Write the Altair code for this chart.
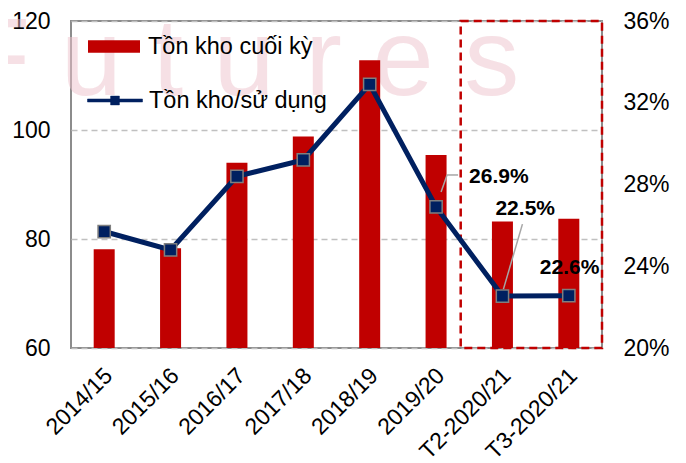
import altair as alt
import pandas as pd

cats = ["2014/15", "2015/16", "2016/17", "2017/18", "2018/19", "2019/20", "T2-2020/21", "T3-2020/21"]
stock = [78.1, 78.3, 94.0, 98.8, 112.8, 95.4, 83.2, 83.7]
ratio_pct = [25.7, 24.8, 28.4, 29.2, 32.9, 26.9, 22.54, 22.56]
left_ticks = [60, 80, 100, 120]
right_ticks = [0.20, 0.24, 0.28, 0.32, 0.36]
series_names = ["Tồn kho cuối kỳ", "Tồn kho/sử dụng"]
watermark = "F u t u r e s"

df = pd.DataFrame({
    "cat": cats,
    "stock": stock,
    "ratio": [r / 100 for r in ratio_pct],
    "s1": series_names[0],
    "s2": series_names[1],
})

RED = "#C00000"
NAVY = "#002060"
FONT = "Liberation Sans"
W, H = 531, 327

xaxis = alt.Axis(title=None, labelAngle=-45, labelFontSize=23, ticks=False,
                 domain=False, labelPadding=16, labelOffset=-3, labelColor="black")
xscale = alt.Scale(paddingInner=0, paddingOuter=0)
xenc = alt.X("cat:N", sort=cats, scale=xscale, axis=xaxis)
rscale = alt.Scale(domain=[0.20, 0.36], nice=False, zero=False)

wm = alt.Chart(alt.Data(values=[{"a": 1}])).mark_text(
    text=watermark, font=FONT, fontSize=110, align="left", baseline="alphabetic",
    color="#efc2cc", opacity=0.5
).encode(x=alt.value(-108), y=alt.value(74))

bars = alt.Chart(df).mark_bar(size=21, clip=True).encode(
    x=xenc,
    y=alt.Y("stock:Q", scale=alt.Scale(domain=[60, 120], nice=False, zero=False),
            axis=alt.Axis(values=left_ticks, title=None, grid=True, gridDash=[6, 4],
                          gridColor="#c0c0c0", gridWidth=1.5, domain=False, ticks=False,
                          labelPadding=21, labelFontSize=23, labelColor="black")),
    y2=alt.datum(60),
    fill=alt.Fill("s1:N", scale=alt.Scale(domain=[series_names[0]], range=[RED]),
                  legend=alt.Legend(title=None, orient="none", legendX=17, legendY=-0.5,
                                    symbolType="M-1,-0.244L1,-0.244L1,0.244L-1,0.244Z",
                                    symbolSize=2704, labelFontSize=23.5, labelColor="black",
                                    labelOffset=8, padding=0, labelLimit=400,
                                    symbolStrokeWidth=0)),
)

box = alt.Chart(alt.Data(values=[{"a": 1}])).mark_rect(
    fill="white", fillOpacity=0, stroke=RED, strokeWidth=2.5, strokeDash=[8, 5]
).encode(x=alt.value(389.7), x2=alt.value(W), y=alt.value(0), y2=alt.value(H))

line = alt.Chart(df).mark_line(strokeWidth=5).encode(
    x=xenc,
    y=alt.Y("ratio:Q", scale=rscale,
            axis=alt.Axis(orient="right", values=right_ticks, format=".0%", title=None,
                          grid=False, domain=False, ticks=False, labelPadding=21,
                          labelFontSize=23, labelColor="black")),
    stroke=alt.Stroke("s2:N", scale=alt.Scale(domain=[series_names[1]], range=[NAVY]),
                      legend=alt.Legend(title=None, orient="none", legendX=16, legendY=51.5,
                                        symbolType="M-1,-0.055L1,-0.055L1,0.055L-1,0.055Z M-0.16,-0.16L0.16,-0.16L0.16,0.16L-0.16,0.16Z",
                                        symbolSize=3025, symbolFillColor=NAVY,
                                        symbolStrokeWidth=0.5, labelFontSize=23.5,
                                        labelColor="black", labelOffset=6, padding=0,
                                        labelLimit=400)),
)

points = alt.Chart(df).mark_point(shape="square", filled=True, size=150, fill=NAVY,
                                  stroke="#7f7f7f", strokeWidth=1.5, opacity=1).encode(
    x=xenc, y=alt.Y("ratio:Q", scale=rscale, axis=None))

def sel(c):
    return alt.Chart(df).transform_filter(alt.datum.cat == c)

lead_color = "#a6a6a6"
r1 = sel(cats[5]).mark_rule(color=lead_color, strokeWidth=1.5, xOffset=5, yOffset=-15,
                             x2Offset=11, y2Offset=-32).encode(
    x=xenc, x2="cat:N", y=alt.Y("ratio:Q", scale=rscale, axis=None), y2="ratio:Q")
r2 = sel(cats[5]).mark_rule(color=lead_color, strokeWidth=1.5, xOffset=11, yOffset=-32,
                             x2Offset=22, y2Offset=-32).encode(
    x=xenc, x2="cat:N", y=alt.Y("ratio:Q", scale=rscale, axis=None), y2="ratio:Q")
r3 = sel(cats[6]).mark_rule(color=lead_color, strokeWidth=1.5, xOffset=1, yOffset=-7,
                             x2Offset=20, y2Offset=-72).encode(
    x=xenc, x2="cat:N", y=alt.Y("ratio:Q", scale=rscale, axis=None), y2="ratio:Q")

def lab(c, dx, dy):
    return sel(c).mark_text(font=FONT, fontSize=21, fontWeight="bold", align="left",
                            baseline="middle", dx=dx, dy=dy, color="black").encode(
        x=xenc, y=alt.Y("ratio:Q", scale=rscale, axis=None),
        text=alt.Text("ratio:Q", format=".1%"))

t1 = lab(cats[5], 33, -30)
t2 = lab(cats[6], -7, -87)
t3 = lab(cats[7], -29, -28)

chart = alt.layer(wm, bars, box, line, points, r1, r2, r3, t1, t2, t3).resolve_scale(
    y="independent"
).properties(
    width=W, height=H,
    autosize=alt.AutoSizeParams(type="none"),
    padding={"left": 63, "top": 13, "right": 76, "bottom": 120},
    background="white",
).configure(font=FONT).configure_view(stroke="#8c8c8c", strokeWidth=2)

chart.save("out.html", embed_options={"renderer": "svg", "actions": False})
